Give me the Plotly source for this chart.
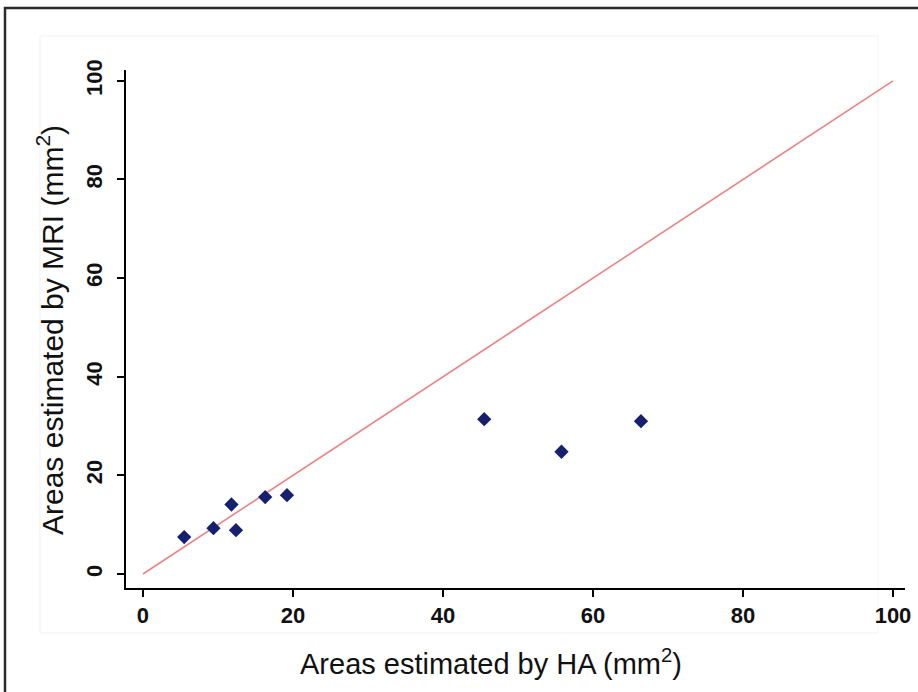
import plotly.graph_objects as go

# Data
ha_area = [5.5, 9.4, 11.8, 12.4, 16.3, 19.2, 45.5, 55.8, 66.4]
mri_area = [7.5, 9.3, 14.1, 8.9, 15.6, 16.0, 31.4, 24.8, 31.0]
identity_x = [0, 100]
identity_y = [0, 100]
tick_vals = [0, 20, 40, 60, 80, 100]
tick_text = ["0", "20", "40", "60", "80", "100"]
x_title = "Areas estimated by HA (mm<sup>2</sup>)"
y_title = "Areas estimated by MRI (mm<sup>2</sup>)"

W, H = 918, 692
L, R, T, B = 126, 13, 70, 104
pw, ph = W - L - R, H - T - B

def px(x):
    return (x - L) / pw

def py(y):
    return (H - B - y) / ph

fig = go.Figure()
fig.add_trace(go.Scatter(
    x=identity_x, y=identity_y, mode="lines",
    line=dict(color="rgba(232,110,110,0.85)", width=1.6),
    hoverinfo="skip", showlegend=False))
fig.add_trace(go.Scatter(
    x=ha_area, y=mri_area, mode="markers",
    marker=dict(symbol="diamond", size=11, color="#16206e"),
    showlegend=False))

tickfont = dict(family="Liberation Sans, Arial", size=22, color="#111", weight="bold")

fig.update_layout(
    width=W, height=H,
    margin=dict(l=L, r=R, t=T, b=B, autoexpand=False),
    paper_bgcolor="white", plot_bgcolor="white",
    xaxis=dict(range=[-2.26, 101.6], tickvals=tick_vals, ticktext=tick_text,
               showgrid=False, zeroline=False, showline=True, linecolor="black",
               linewidth=2, ticks="outside", ticklen=7, tickwidth=2, tickcolor="black",
               tickfont=tickfont, automargin=False),
    yaxis=dict(range=[-2.83, 102.2], tickvals=tick_vals, ticktext=tick_text,
               showgrid=False, zeroline=False, showline=True, linecolor="black",
               linewidth=2, ticks="outside", ticklen=7, tickwidth=2, tickcolor="black",
               tickangle=-90, tickfont=tickfont, automargin=False,
               ticklabelstandoff=6),
    annotations=[
        dict(text=x_title, xref="paper", yref="paper", x=px(491), y=py(662),
             xanchor="center", yanchor="middle", showarrow=False,
             font=dict(family="Liberation Sans, Arial", size=29, color="#111")),
        dict(text=y_title, xref="paper", yref="paper", x=px(50), y=py(330),
             xanchor="center", yanchor="middle", showarrow=False, textangle=-90,
             font=dict(family="Liberation Sans, Arial", size=30, color="#111")),
    ],
    shapes=[
        dict(type="rect", xref="paper", yref="paper",
             x0=px(5), x1=px(W + 20), y0=py(H + 20), y1=py(8),
             line=dict(color="#2a2a2a", width=2.5), layer="above"),
        dict(type="rect", xref="paper", yref="paper",
             x0=px(40), x1=px(878), y0=py(633), y1=py(36),
             line=dict(color="#f3f3f3", width=1), layer="below"),
    ],
)

fig.write_html("out.html", config={"displayModeBar": False},
               post_script="document.body.style.margin='0';document.body.style.overflow='hidden';")
